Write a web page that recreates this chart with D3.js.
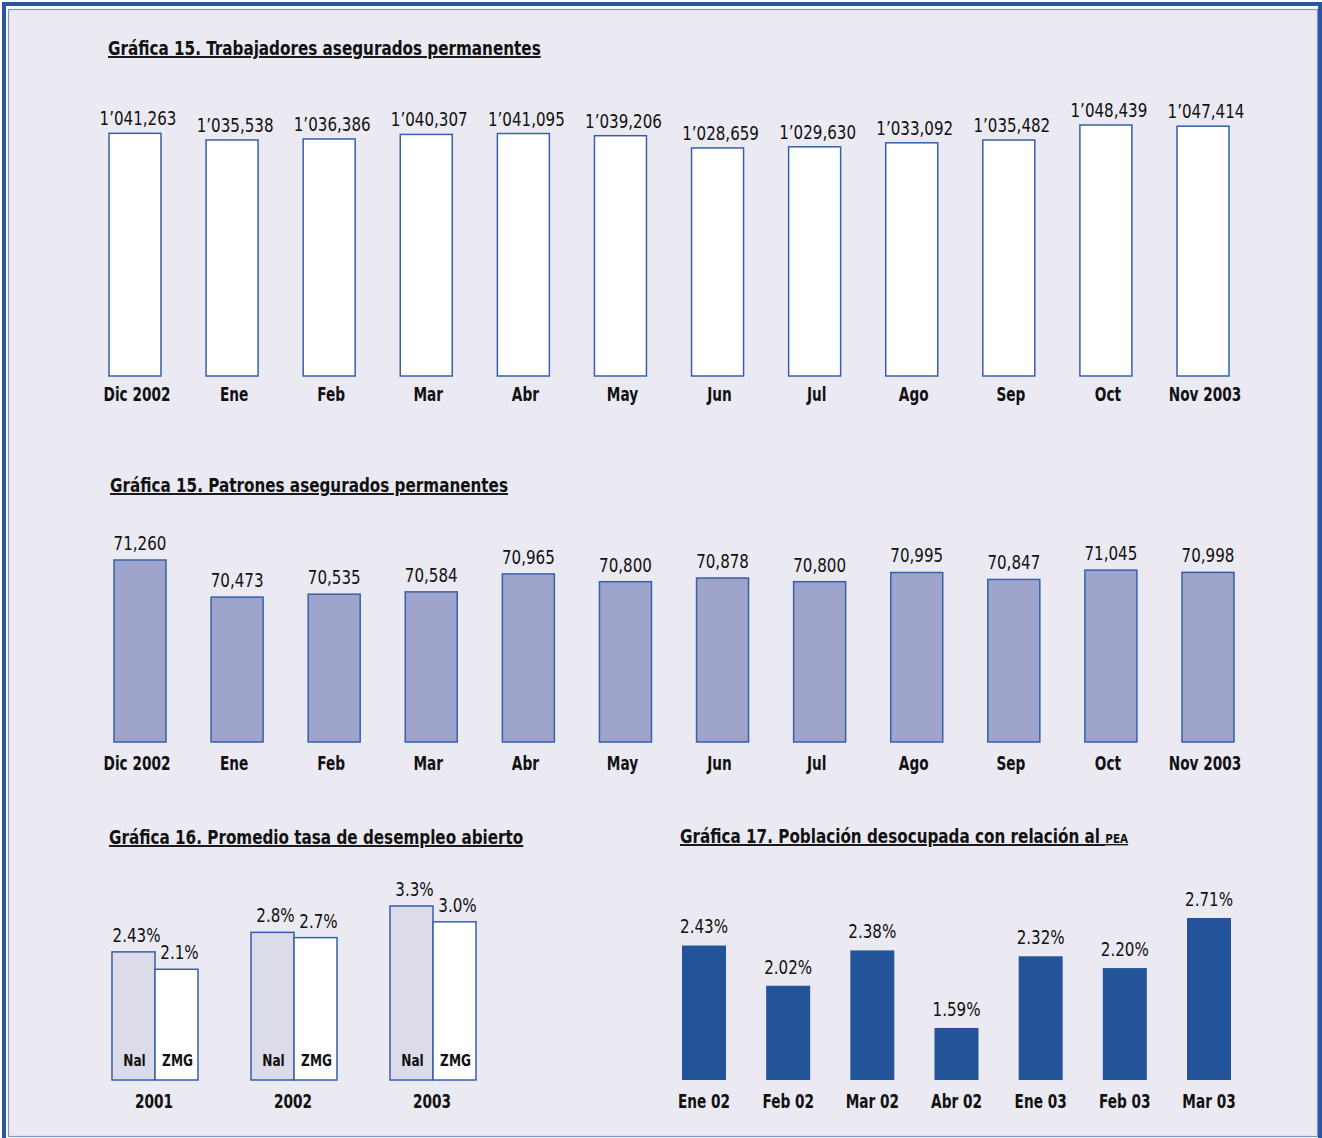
<!DOCTYPE html>
<head>
  <meta charset="utf-8">
  <script src="https://d3js.org/d3.v7.min.js"></script>
  <style>
    body { margin:0; background:#fff; }
    text { font-family: "Liberation Sans Narrow", "DejaVu Sans Condensed", sans-serif; fill:#111; }
    .titulo { font-weight:bold; font-size:19px; text-decoration:underline; }
    .valor { font-size:20px; }
    .cat { font-weight:bold; font-size:19px; }
  </style>
</head>
<body>
<script>
// Gráfica 15 (trabajadores / patrones)
var meses = ["Dic 2002","Ene","Feb","Mar","Abr","May","Jun","Jul","Ago","Sep","Oct","Nov 2003"];
var trabajadores = [1041263,1035538,1036386,1040307,1041095,1039206,1028659,1029630,1033092,1035482,1048439,1047414];
var patrones = [71260,70473,70535,70584,70965,70800,70878,70800,70995,70847,71045,70998];

// Gráfica 16
var anios = ["2001","2002","2003"];
var tasaNal = [2.43,2.8,3.3];
var tasaZmg = [2.1,2.7,3.0];
var etiqNal = ["2.43%","2.8%","3.3%"];
var etiqZmg = ["2.1%","2.7%","3.0%"];

// Gráfica 17
var periodos = ["Ene 02","Feb 02","Mar 02","Abr 02","Ene 03","Feb 03","Mar 03"];
var pea = [2.43,2.02,2.38,1.59,2.32,2.20,2.71];

var width = 1322, height = 1138;
var azul = "#3461aa";
// la fuente condensada del original no existe aqui: se estrecha en x
var sxValor = 0.84, sxCat = 0.8, sxTitulo = 0.89;

var svg = d3.select("body").append("svg")
    .attr("width", width)
    .attr("height", height);

// fondo y marco doble
svg.append("rect").attr("width", width).attr("height", height).attr("fill", "#fff");
svg.append("rect").attr("x", 4).attr("y", 4).attr("width", 1316).attr("height", 1140)
    .attr("fill", "none").attr("stroke", "#2a559f").attr("stroke-width", 4);
svg.append("rect").attr("x", 8.5).attr("y", 9.5).attr("width", 1309).attr("height", 1127)
    .attr("fill", "#ebeaf3").attr("stroke", "#7b96c8").attr("stroke-width", 1.2);

function pos(x, y, sx) {
  return "translate(" + x + "," + y + ") scale(" + sx + ",1)";
}

function titulo(x, y, t) {
  return svg.append("text").attr("class", "titulo")
      .attr("transform", pos(x, y, sxTitulo)).text(t);
}

// ---- Trabajadores ----
titulo(108, 55, "Gráfica 15. Trabajadores asegurados permanentes");
var x1 = d3.scalePoint().domain(meses).range([135, 1203]);
var y1 = d3.scaleLinear().domain([832000, 1048439]).range([376, 125]);
var fmtMiles = function(v) {
  var s = d3.format(",")(v).split(",");
  return s[0] + "\u2019" + s[1] + "," + s[2];
};
var g1 = svg.append("g");
g1.selectAll("rect").data(trabajadores).enter().append("rect")
    .attr("x", function(d, i) { return x1(meses[i]) - 26; })
    .attr("y", function(d) { return y1(d); })
    .attr("width", 52)
    .attr("height", function(d) { return y1.range()[0] - y1(d); })
    .attr("fill", "#fff").attr("stroke", azul).attr("stroke-width", 1.5);
g1.selectAll(".valor").data(trabajadores).enter().append("text")
    .attr("class", "valor").attr("text-anchor", "middle")
    .attr("transform", function(d, i) { return pos(x1(meses[i]) + 3, y1(d) - 8, sxValor); })
    .text(fmtMiles);
g1.selectAll(".cat").data(meses).enter().append("text")
    .attr("class", "cat").attr("text-anchor", "middle")
    .attr("transform", function(d) { return pos(x1(d) + 2, 401, sxCat); })
    .text(function(d) { return d; });

// ---- Patrones ----
titulo(110, 492, "Gráfica 15. Patrones asegurados permanentes");
var x2 = d3.scalePoint().domain(meses).range([140, 1208]);
var y2 = d3.scaleLinear().domain([67400, 71260]).range([742, 560]);
var g2 = svg.append("g");
g2.selectAll("rect").data(patrones).enter().append("rect")
    .attr("x", function(d, i) { return x2(meses[i]) - 26; })
    .attr("y", function(d) { return y2(d); })
    .attr("width", 52)
    .attr("height", function(d) { return y2.range()[0] - y2(d); })
    .attr("fill", "#9ea4cc").attr("stroke", azul).attr("stroke-width", 1.5);
g2.selectAll(".valor").data(patrones).enter().append("text")
    .attr("class", "valor").attr("text-anchor", "middle")
    .attr("transform", function(d, i) { return pos(x2(meses[i]), y2(d) - 10, sxValor); })
    .text(d3.format(","));
g2.selectAll(".cat").data(meses).enter().append("text")
    .attr("class", "cat").attr("text-anchor", "middle")
    .attr("transform", function(d) { return pos(x1(d) + 2, 770, sxCat); })
    .text(function(d) { return d; });

// ---- Tasa de desempleo ----
titulo(109, 844, "Gráfica 16. Promedio tasa de desempleo abierto");
var x3 = d3.scalePoint().domain(anios).range([155, 433]);
var y3 = d3.scaleLinear().domain([0, 3.3]).range([1080, 906]);
var bw3 = 43;
var g3 = svg.append("g");
var pares = [
  { vals: tasaNal, etiq: etiqNal, dx: -bw3, fill: "#dcdbea", nombre: "Nal" },
  { vals: tasaZmg, etiq: etiqZmg, dx: 0, fill: "#fff", nombre: "ZMG" }
];
pares.forEach(function(p) {
  g3.selectAll(null).data(p.vals).enter().append("rect")
      .attr("x", function(d, i) { return x3(anios[i]) + p.dx; })
      .attr("y", function(d) { return y3(d); })
      .attr("width", bw3)
      .attr("height", function(d) { return y3(0) - y3(d); })
      .attr("fill", p.fill).attr("stroke", azul).attr("stroke-width", 1.5);
  g3.selectAll(null).data(p.vals).enter().append("text")
      .attr("class", "valor").attr("text-anchor", "middle")
      .attr("transform", function(d, i) { return pos(x3(anios[i]) + p.dx + bw3 / 2 + 3, y3(d) - 10, sxValor); })
      .text(function(d, i) { return p.etiq[i]; });
  g3.selectAll(null).data(anios).enter().append("text")
      .attr("text-anchor", "middle")
      .attr("font-weight", "bold").attr("font-size", 15)
      .attr("transform", function(d) { return pos(x3(d) + p.dx + bw3 / 2 + 1, 1066, 0.9); })
      .text(p.nombre);
});
g3.selectAll(".cat").data(anios).enter().append("text")
    .attr("class", "cat").attr("text-anchor", "middle")
    .attr("transform", function(d) { return pos(x3(d) - 1, 1108, sxCat); })
    .text(function(d) { return d; });

// ---- Población desocupada / PEA ----
var t4 = titulo(680, 843, "Gráfica 17. Población desocupada con relación al ");
t4.append("tspan").attr("font-size", 13).text("PEA");
var x4 = d3.scalePoint().domain(periodos).range([704, 1209]);
var y4 = d3.scaleLinear().domain([1.06, 2.71]).range([1080, 918]);
var g4 = svg.append("g");
g4.selectAll("rect").data(pea).enter().append("rect")
    .attr("x", function(d, i) { return x4(periodos[i]) - 22; })
    .attr("y", function(d) { return y4(d); })
    .attr("width", 44)
    .attr("height", function(d) { return y4.range()[0] - y4(d); })
    .attr("fill", "#235399");
g4.selectAll(".valor").data(pea).enter().append("text")
    .attr("class", "valor").attr("text-anchor", "middle")
    .attr("transform", function(d, i) { return pos(x4(periodos[i]), y4(d) - 12, sxValor); })
    .text(function(d) { return d3.format(".2f")(d) + "%"; });
g4.selectAll(".cat").data(periodos).enter().append("text")
    .attr("class", "cat").attr("text-anchor", "middle")
    .attr("transform", function(d) { return pos(x4(d), 1108, sxCat); })
    .text(function(d) { return d; });
</script>
</body>
